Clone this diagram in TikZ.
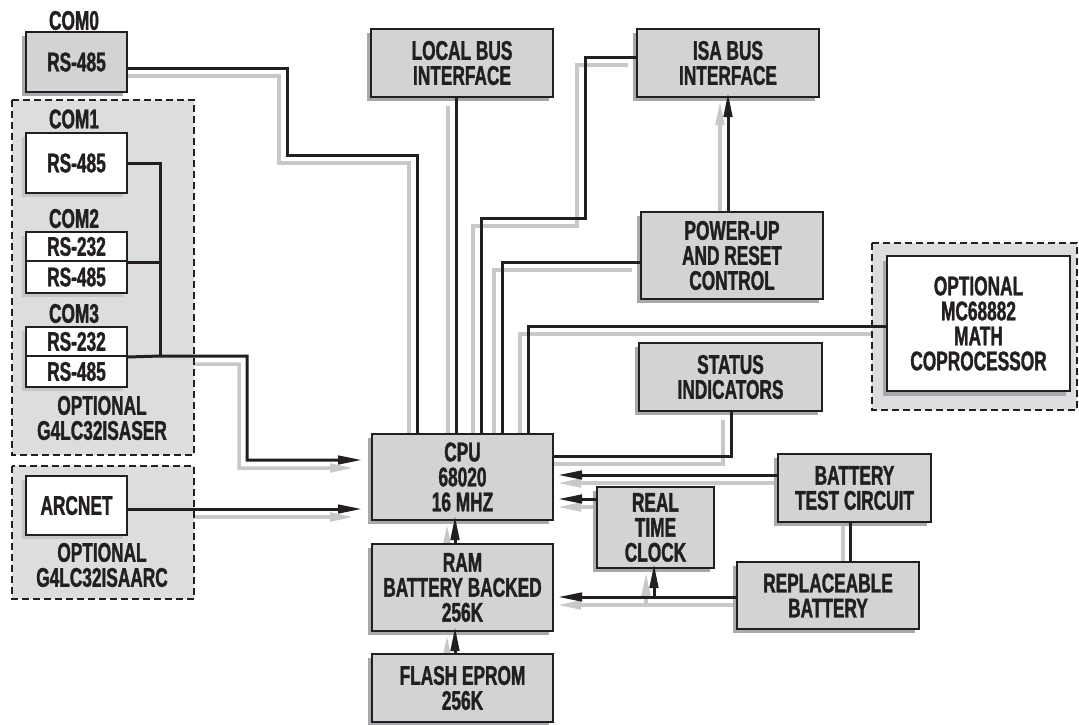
\documentclass[tikz,border=0pt]{standalone}
\usepackage{fontspec}
\newfontfamily\lbl{Liberation Sans}[FakeStretch=0.64,BoldFeatures={FakeBold=1.3}]
\usetikzlibrary{arrows.meta,shadows,calc}
\pgfdeclarelayer{shl}\pgfdeclarelayer{grp}\pgfdeclarelayer{fg}
\pgfsetlayers{shl,grp,main,fg}
\definecolor{ink}{RGB}{35,31,32}
\definecolor{boxfill}{RGB}{209,211,212}
\definecolor{grpfill}{RGB}{220,221,223}
\definecolor{shgray}{RGB}{167,169,172}
\definecolor{shlight}{RGB}{196,197,199}
\definecolor{wgray}{RGB}{199,200,202}
\tikzset{
  txt/.style={font=\lbl\bfseries\fontsize{27}{25}\selectfont, text=ink, align=center, inner sep=0pt},
  gbox/.style={txt, draw=ink, line width=2pt, fill=boxfill,
    general shadow={fill=shgray, shadow xshift=-4pt, shadow yshift=-4pt}},
  wbox/.style={txt, draw=ink, line width=2pt, fill=white,
    general shadow={fill=shlight, shadow xshift=-4pt, shadow yshift=-4pt}},
  mbox/.style={txt, draw=ink, line width=2pt, fill=white,
    general shadow={fill=shgray, shadow xshift=-4pt, shadow yshift=-5pt}},
  wline/.style={draw=ink, line width=3pt},
  sline/.style={draw=wgray, line width=3.5pt},
  tip/.style={-{Triangle[length=24pt,width=8.5pt]}},
  grpbox/.style={draw=ink, line width=1.8pt, dash pattern=on 7pt off 4pt, fill=grpfill},
}
\newcommand\wire[3][]{%
  \begin{pgfonlayer}{shl}\draw[sline,#1,transform canvas={shift={#2}}] #3;\end{pgfonlayer}%
  \begin{pgfonlayer}{fg}\draw[wline,#1] #3;\end{pgfonlayer}}
\begin{document}
\begin{tikzpicture}[x=1pt,y=-1pt]
\useasboundingbox (0,0) rectangle (1079,724);

% groups
\begin{pgfonlayer}{grp}
\path[grpbox] (12,100) rectangle (194,455);
\path[grpbox] (12,466) rectangle (194,599);
\path[grpbox] (872,243) rectangle (1077,410);
\end{pgfonlayer}

% left side
\node[txt] (lcom0) at (74,20.5) {COM0};
\node[gbox, minimum width=101pt, minimum height=60pt] (com0) at (76.5,62) {RS-485};
\node[txt] (lcom1) at (74,119) {COM1};
\node[wbox, minimum width=101pt, minimum height=60pt] (com1) at (76.5,163) {RS-485};
\node[txt] (lcom2) at (74,218.5) {COM2};
\node[wbox, minimum width=101pt, minimum height=29pt] (com2a) at (76.5,246.5) {RS-232};
\node[wbox, minimum width=101pt, minimum height=32pt] (com2b) at (76.5,277) {RS-485};
\node[txt] (lcom3) at (74,313.5) {COM3};
\node[wbox, minimum width=101pt, minimum height=29pt] (com3a) at (76.5,341.5) {RS-232};
\node[wbox, minimum width=101pt, minimum height=31pt] (com3b) at (76.5,371.5) {RS-485};
\node[txt] (lser) at (102,418) {OPTIONAL\\G4LC32ISASER};
\node[wbox, minimum width=101pt, minimum height=59pt] (arc) at (76.5,505.5) {ARCNET};
\node[txt] (larc) at (102,565) {OPTIONAL\\G4LC32ISAARC};

% centre column
\node[gbox, minimum width=182pt, minimum height=68pt] (lbus) at (462,63) {LOCAL BUS\\INTERFACE};
\node[gbox, minimum width=181pt, minimum height=86pt] (cpu) at (462.5,477) {CPU\\68020\\16 MHZ};
\node[gbox, minimum width=181pt, minimum height=87pt] (ram) at (462.5,587.5) {RAM\\BATTERY BACKED\\256K};
\node[gbox, minimum width=181pt, minimum height=68pt] (flash) at (462.5,688) {FLASH EPROM\\256K};

% right side
\node[gbox, minimum width=182pt, minimum height=68pt] (isa) at (728,63) {ISA BUS\\INTERFACE};
\node[gbox, minimum width=182pt, minimum height=87pt] (pwr) at (732,255.5) {POWER-UP\\AND RESET\\CONTROL};
\node[gbox, minimum width=183pt, minimum height=68pt] (stat) at (730.5,377) {STATUS\\INDICATORS};
\node[mbox, minimum width=183pt, minimum height=135pt] (math) at (978.5,323.5) {OPTIONAL\\MC68882\\MATH\\COPROCESSOR};
\node[gbox, minimum width=153pt, minimum height=68pt] (btest) at (854.5,488) {BATTERY\\TEST CIRCUIT};
\node[gbox, minimum width=117pt, minimum height=81pt] (rtc) at (655.5,527.5) {REAL\\TIME\\CLOCK};
\node[gbox, minimum width=182pt, minimum height=67pt] (rbat) at (828,595.5) {REPLACEABLE\\BATTERY};

% junctions
\coordinate (j3) at (160,356);
\coordinate (jb) at (654,597);

% connectors
\wire{(-8,8)}{(com0.east |- 0,68) -| (287,155) -| (cpu.north -| 417,0)}
\wire{(-8,8)}{(lbus.south -| 456,0) -- (cpu.north -| 456,0)}
\wire{(-8,8)}{(isa.west |- 0,57) -| (585,218) -| (cpu.north -| 481,0)}
\wire{(-8,8)}{(pwr.west |- 0,262) -| (cpu.north -| 502,0)}
\wire{(-8,8)}{(math.west |- 0,326) -| (cpu.north -| 528,0)}
\wire{(-8,8)}{(stat.south -| 731,0) |- (cpu.east |- 0,456)}
\wire[tip,shorten >=-5pt]{(-8,8)}{(pwr.north -| 728,0) -- (isa.south -| 728,0)}
\wire[tip,shorten >=4pt]{(-1,8)}{(btest.west |- 0,475) -- (cpu.east |- 0,475)}
\wire[tip,shorten >=4pt]{(-1,8)}{(rtc.west |- 0,499) -- (cpu.east |- 0,499)}
\wire[tip,shorten >=4pt]{(-1,8)}{(rbat.west |- jb) -- (ram.east |- jb)}
\wire[tip,shorten >=-5pt]{(-8,8)}{(jb) -- (rtc.south -| jb)}
\wire{(-7,0)}{(btest.south -| 850,0) -- (rbat.north -| 850,0)}
\wire[tip,shorten >=-5pt]{(-8,8)}{(ram.north -| 455,0) -- (cpu.south -| 455,0)}
\wire[tip,shorten >=-5pt]{(-8,8)}{(flash.north -| 455,0) -- (ram.south -| 455,0)}
\wire{(-8,8)}{(com1.east) -| (j3)}
\wire{(-8,8)}{(com2a.south east) -- (com2a.south east -| j3)}
\wire[tip,shorten >=9pt]{(-8,8)}{(com3a.south east) -- (j3) -| (247,460) -- (cpu.west |- 0,460)}
\wire[tip,shorten >=9pt]{(-8,8)}{(arc.east |- 0,509) -- (cpu.west |- 0,509)}
\end{tikzpicture}
\end{document}
